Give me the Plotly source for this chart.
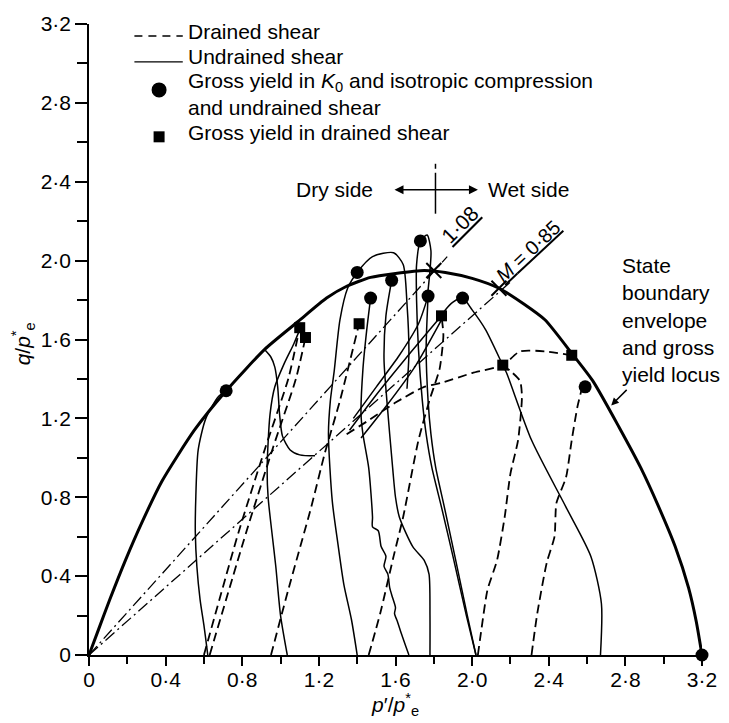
import plotly.graph_objects as go

W, H = 729, 723
ML, MR, MT, MB = 89, 19, 23, 68

# ---------------- tick labels ----------------
tick_vals = [0, 0.4, 0.8, 1.2, 1.6, 2.0, 2.4, 2.8, 3.2]
tick_text = ["0", "0·4", "0·8", "1·2", "1·6", "2·0", "2·4", "2·8", "3·2"]
minor_step = 0.2

# ---------------- state boundary envelope ----------------
env_p = [0, 0.05, 0.108, 0.19, 0.28, 0.38, 0.55, 0.716, 0.917, 1.09, 1.24, 1.345, 1.47, 1.60, 1.75,
         1.86, 2.0, 2.14, 2.27, 2.38, 2.52, 2.63, 2.77, 2.88, 2.97, 3.06, 3.13, 3.17, 3.2]
env_q = [0, 0.13, 0.28, 0.48, 0.68, 0.88, 1.14, 1.34, 1.55, 1.69, 1.81, 1.87, 1.915, 1.935, 1.95,
         1.94, 1.91, 1.86, 1.78, 1.70, 1.53, 1.39, 1.15, 0.95, 0.76, 0.55, 0.34, 0.17, 0]

# ---------------- undrained shear paths ----------------
u1_p = [0.62, 0.60, 0.58, 0.563, 0.555, 0.557, 0.57, 0.61, 0.675, 0.716]
u1_q = [0, 0.15, 0.28, 0.45, 0.62, 0.78, 1.04, 1.2, 1.31, 1.34]
u2_p = [1.035, 1.0, 0.975, 0.955, 0.935, 0.93, 0.945, 0.97, 1.02, 1.07, 1.10]
u2_q = [0, 0.2, 0.45, 0.62, 0.8, 0.95, 1.22, 1.36, 1.48, 1.58, 1.65]
hook_p = [1.18, 1.10, 1.05, 1.01, 0.995, 0.985, 0.97, 0.95, 0.92]
hook_q = [1.01, 1.015, 1.04, 1.11, 1.22, 1.36, 1.46, 1.51, 1.545]
u3_p = [1.40, 1.37, 1.33, 1.30, 1.27, 1.25, 1.26, 1.28, 1.31, 1.35, 1.40, 1.48, 1.59, 1.64, 1.66, 1.67, 1.66]
u3_q = [0, 0.18, 0.36, 0.56, 0.78, 1.12, 1.29, 1.44, 1.70, 1.86, 1.94, 2.02, 2.04, 1.98, 1.78, 1.53, 1.35]
uw_p = [1.67, 1.655, 1.63, 1.61, 1.595, 1.60, 1.585, 1.57, 1.56, 1.54, 1.55, 1.525, 1.51, 1.48, 1.48,
        1.46, 1.43, 1.42, 1.43, 1.45, 1.47]
uw_q = [0, 0.04, 0.11, 0.17, 0.21, 0.24, 0.29, 0.34, 0.41, 0.45, 0.50, 0.55, 0.63, 0.65, 0.70,
        0.95, 1.12, 1.22, 1.45, 1.65, 1.81]
u4_p = [1.78, 1.78, 1.775, 1.75, 1.69, 1.62, 1.60, 1.585, 1.555, 1.54, 1.55, 1.58]
u4_q = [0, 0.2, 0.41, 0.48, 0.55, 0.70, 0.80, 0.95, 1.29, 1.50, 1.72, 1.90]
u5_p = [2.02, 1.97, 1.90, 1.84, 1.79, 1.76, 1.74, 1.72, 1.71, 1.71, 1.73, 1.765, 1.785, 1.78, 1.77]
u5_q = [0, 0.2, 0.5, 0.75, 0.95, 1.12, 1.29, 1.55, 1.80, 1.98, 2.10, 2.13, 2.05, 1.95, 1.85]
u5b_p = [2.02, 1.975, 1.91, 1.855, 1.81, 1.785, 1.77, 1.76, 1.77]
u5b_q = [0, 0.2, 0.5, 0.75, 0.95, 1.12, 1.29, 1.55, 1.82]
u6_p = [2.67, 2.675, 2.62, 2.49, 2.31, 2.18, 2.16, 2.07, 2.0, 1.95, 1.90, 1.86, 1.84]
u6_q = [0, 0.26, 0.5, 0.75, 1.09, 1.43, 1.47, 1.65, 1.75, 1.81, 1.79, 1.75, 1.72]
t1_p = [1.36, 1.50, 1.65, 1.84]
t1_q = [1.14, 1.32, 1.50, 1.72]
t2_p = [1.38, 1.50, 1.62, 1.72, 1.77]
t2_q = [1.20, 1.36, 1.52, 1.68, 1.82]
t3_p = [1.42, 1.55, 1.70, 1.84]
t3_q = [1.10, 1.26, 1.46, 1.70]

# ---------------- drained shear paths ----------------
d1a_p = [0.60, 0.78, 0.92, 1.04, 1.10]
d1a_q = [0, 0.62, 1.05, 1.40, 1.66]
d1b_p = [0.63, 0.82, 0.96, 1.08, 1.13]
d1b_q = [0, 0.62, 1.05, 1.40, 1.61]
d2_p = [0.95, 1.04, 1.16, 1.23, 1.31, 1.41]
d2_q = [0, 0.33, 0.75, 1.02, 1.29, 1.68]
d3_p = [1.46, 1.52, 1.59, 1.64, 1.72, 1.78, 1.83, 1.85, 1.84]
d3_q = [0, 0.21, 0.50, 0.70, 1.09, 1.30, 1.45, 1.62, 1.72]
d4_p = [2.03, 2.05, 2.08, 2.13, 2.17, 2.20, 2.24, 2.26, 2.25, 2.20, 2.16]
d4_q = [0, 0.14, 0.33, 0.48, 0.70, 0.92, 1.09, 1.31, 1.39, 1.44, 1.47]
d5_p = [2.31, 2.34, 2.39, 2.43, 2.44, 2.49, 2.52, 2.55, 2.57]
d5_q = [0, 0.21, 0.47, 0.60, 0.77, 0.90, 1.09, 1.26, 1.34]
e_p = [1.345, 1.46, 1.60, 1.75, 1.84, 2.0, 2.16, 2.25, 2.38, 2.52]
e_q = [1.12, 1.19, 1.28, 1.36, 1.38, 1.43, 1.47, 1.54, 1.54, 1.52]

# ---------------- gross yield points ----------------
circ_p = [0.716, 1.40, 1.47, 1.58, 1.73, 1.77, 1.95, 2.59, 3.2]
circ_q = [1.34, 1.94, 1.81, 1.90, 2.10, 1.82, 1.81, 1.36, 0]
sq_p = [1.10, 1.13, 1.41, 1.84, 2.16, 2.52]
sq_q = [1.66, 1.61, 1.68, 1.72, 1.47, 1.52]

# ---------------- critical state lines from origin ----------------
line108_p = [0, 1.87]
line108_q = [0, 2.02]
line085_p = [0, 2.21]
line085_q = [0, 1.90]
cross_p = [1.80, 2.14]
cross_q = [1.95, 1.86]

FONT = "Liberation Sans, Arial, sans-serif"
PW, PH = W - ML - MR, H - MT - MB
SX, SY = PW / 3.2, PH / 3.2


def dx(px):
    return (px - ML) / SX


def dy(py):
    return (H - MB - py) / SY


def ppx(px):
    return (px - ML) / PW


def ppy(py):
    return (H - MB - py) / PH


fig = go.Figure()

black = "black"
DASH = "9px,5px"
DASHDOT = "12px,4px,2px,4px"

# dash-dot lines
for lp, lq in [(line108_p, line108_q), (line085_p, line085_q)]:
    fig.add_trace(go.Scatter(x=lp, y=lq, mode="lines",
                             line=dict(color=black, width=1.3, dash=DASHDOT)))

# drained paths
for pp, qq in [(d1a_p, d1a_q), (d1b_p, d1b_q), (d2_p, d2_q), (d3_p, d3_q),
               (d4_p, d4_q), (d5_p, d5_q), (e_p, e_q)]:
    fig.add_trace(go.Scatter(x=pp, y=qq, mode="lines",
                             line=dict(color=black, width=1.8, dash=DASH, shape="spline", smoothing=0.6)))

# undrained paths
for pp, qq in [(u1_p, u1_q), (u2_p, u2_q), (hook_p, hook_q), (u3_p, u3_q), (uw_p, uw_q),
               (u4_p, u4_q), (u5_p, u5_q), (u5b_p, u5b_q), (u6_p, u6_q),
               (t1_p, t1_q), (t2_p, t2_q), (t3_p, t3_q)]:
    fig.add_trace(go.Scatter(x=pp, y=qq, mode="lines",
                             line=dict(color=black, width=1.5, shape="spline", smoothing=0.7)))

# envelope
fig.add_trace(go.Scatter(x=env_p, y=env_q, mode="lines",
                         line=dict(color=black, width=3, shape="spline", smoothing=0.6)))

# markers
fig.add_trace(go.Scatter(x=circ_p, y=circ_q, mode="markers", cliponaxis=False,
                         marker=dict(symbol="circle", size=13, color=black)))
fig.add_trace(go.Scatter(x=sq_p, y=sq_q, mode="markers", cliponaxis=False,
                         marker=dict(symbol="square", size=11, color=black)))
fig.add_trace(go.Scatter(x=cross_p, y=cross_q, mode="markers", cliponaxis=False,
                         marker=dict(symbol="x-thin", size=15, color=black,
                                     line=dict(width=2, color=black))))

shapes = []
annotations = []

# ---- legend (drawn manually) ----
shapes.append(dict(type="line", xref="paper", yref="paper", x0=ppx(135), x1=ppx(184),
                   y0=ppy(35), y1=ppy(35), line=dict(color=black, width=1.3, dash="8px,6px")))
shapes.append(dict(type="line", xref="paper", yref="paper", x0=ppx(135), x1=ppx(184),
                   y0=ppy(61), y1=ppy(61), line=dict(color=black, width=1.3)))
shapes.append(dict(type="circle", xref="paper", yref="paper", xsizemode="pixel", ysizemode="pixel",
                   xanchor=ppx(160), yanchor=ppy(89), x0=-7.5, x1=7.5, y0=-7.5, y1=7.5,
                   fillcolor=black, line=dict(width=0)))
shapes.append(dict(type="rect", xref="paper", yref="paper", xsizemode="pixel", ysizemode="pixel",
                   xanchor=ppx(160), yanchor=ppy(136), x0=-5.5, x1=5.5, y0=-5.5, y1=5.5,
                   fillcolor=black, line=dict(width=0)))

legend_texts = [
    ("Drained shear", 31),
    ("Undrained shear", 56),
    ("Gross yield in <i>K</i><sub>0</sub> and isotropic compression<br>and undrained shear", 93),
    ("Gross yield in drained shear", 132),
]
for txt, yc in legend_texts:
    annotations.append(dict(text=txt, xref="paper", yref="paper", x=ppx(187), y=ppy(yc),
                            xanchor="left", yanchor="middle", align="left", showarrow=False,
                            font=dict(size=21, color=black)))

# ---- dry side / wet side ----
annotations.append(dict(text="Dry side", x=dx(379), y=dy(189), xanchor="right", yanchor="middle",
                        showarrow=False, font=dict(size=21, color=black)))
annotations.append(dict(text="Wet side", x=dx(491), y=dy(189), xanchor="left", yanchor="middle",
                        showarrow=False, font=dict(size=21, color=black)))
annotations.append(dict(text="", x=dx(483), y=dy(189), ax=dx(397), ay=dy(189), axref="x", ayref="y",
                        showarrow=True, arrowside="end+start", arrowhead=2, arrowsize=1.2,
                        arrowwidth=1.5, arrowcolor=black))
shapes.append(dict(type="line", x0=dx(440), x1=dx(440), y0=dy(213), y1=dy(172),
                   line=dict(color=black, width=1.5)))
shapes.append(dict(type="line", x0=dx(440), x1=dx(440), y0=dy(168), y1=dy(163),
                   line=dict(color=black, width=1.5)))

# ---- slope labels ----
annotations.append(dict(text="<u>1·08</u>", x=dx(465), y=dy(224), textangle=-45, showarrow=False,
                        font=dict(size=21, color=black)))
annotations.append(dict(text="<u><i>M</i> = 0·85</u>", x=dx(534), y=dy(250), textangle=-43,
                        showarrow=False, font=dict(size=20, color=black)))

# ---- envelope label ----
annotations.append(dict(text="State<br>boundary<br>envelope<br>and gross<br>yield locus",
                        x=dx(627), y=dy(319), xanchor="left", yanchor="middle", align="left",
                        showarrow=False, font=dict(size=21, color=black)))
annotations.append(dict(text="", x=dx(618), y=dy(405), ax=17, ay=-17, showarrow=True,
                        arrowhead=2, arrowsize=1, arrowwidth=1.5, arrowcolor=black))

# ---- axis titles ----
annotations.append(dict(text="<i>p</i>′/<i>p</i><sup>*</sup><sub>e</sub>", xref="paper", yref="paper",
                        x=ppx(399), y=ppy(705), xanchor="center", yanchor="middle", showarrow=False,
                        font=dict(size=21, color=black)))
annotations.append(dict(text="<i>q</i>/<i>p</i><sup>*</sup><sub>e</sub>", xref="paper", yref="paper",
                        x=ppx(22), y=ppy(343), xanchor="center", yanchor="middle", showarrow=False,
                        textangle=-90, font=dict(size=21, color=black)))

axis_common = dict(range=[0, 3.2], showgrid=False, zeroline=False, showline=True, linecolor=black,
                   linewidth=1.6, ticks="outside", tickcolor=black, tickwidth=1.5,
                   tickmode="array", tickvals=tick_vals, ticktext=tick_text,
                   tickfont=dict(size=21, color=black), fixedrange=True)

fig.update_layout(
    width=W, height=H, margin=dict(l=ML, r=MR, t=MT, b=MB, pad=0),
    paper_bgcolor="white", plot_bgcolor="white", showlegend=False,
    font=dict(family=FONT, color=black),
    xaxis=dict(**axis_common, ticklen=9, ticklabelstandoff=-4,
               minor=dict(ticks="outside", dtick=minor_step, tick0=0, ticklen=7, tickwidth=1.5, tickcolor=black)),
    yaxis=dict(**axis_common, ticklen=12,
               minor=dict(ticks="outside", dtick=minor_step, tick0=0, ticklen=10, tickwidth=1.5, tickcolor=black)),
    shapes=shapes, annotations=annotations,
)

fig.write_html("out.html")
